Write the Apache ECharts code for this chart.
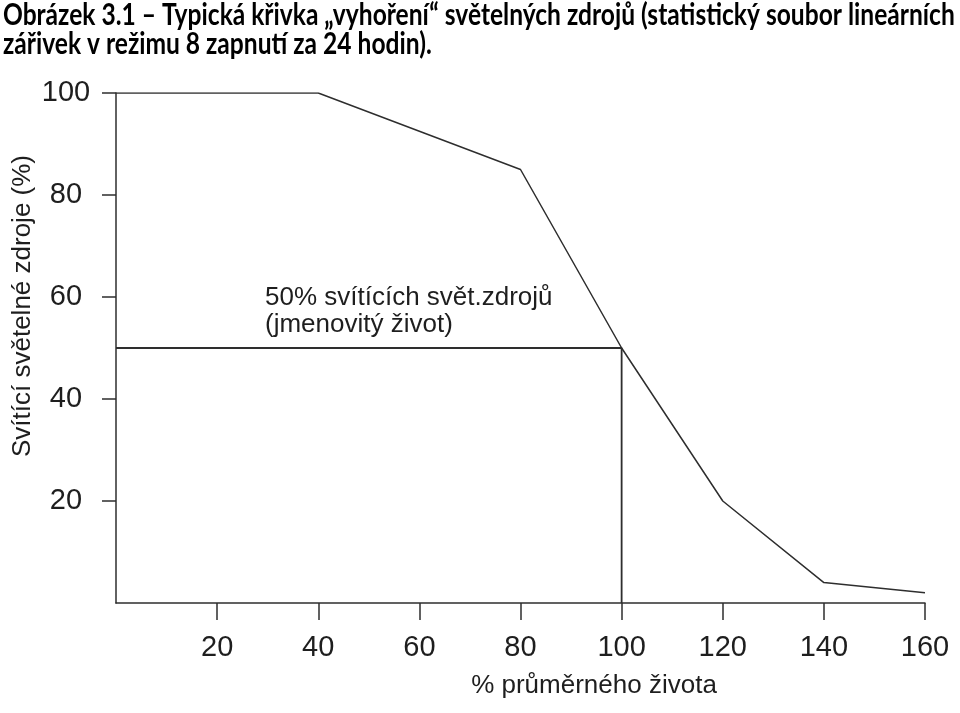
<!DOCTYPE html>
<html><head><meta charset="utf-8">
<script src="https://cdn.jsdelivr.net/npm/echarts@6/dist/echarts.min.js"></script>
<style>html,body{margin:0;padding:0;background:#fff}#c{width:960px;height:713px}</style>
</head><body><div id="c"></div>
<script>
const titleLines = ['Obrázek 3.1 – Typická křivka „vyhoření“ světelných zdrojů (statistický soubor lineárních', 'zářivek v režimu 8 zapnutí za 24 hodin).'];
const xAxisName = '% průměrného života';
const yAxisName = 'Svítící světelné zdroje (%)';
const annotationLines = ['50% svítících svět.zdrojů', '(jmenovitý život)'];
const lifePct = [0, 40, 80, 100, 120, 140, 160];
const burningPct = [100, 100, 85, 50, 20, 4, 2];
const ratedLifeX = [0, 100, 100];
const ratedLifeY = [50, 50, 0];
const xTicks = [20, 40, 60, 80, 100, 120, 140, 160];
const yTicks = [20, 40, 60, 80, 100];

const mctx = document.createElement('canvas').getContext('2d');
mctx.font = 'bold 100px Lato';
const titleSize = Math.min(30, 100 * 952 / mctx.measureText(titleLines[0]).width);

const chart = echarts.init(document.getElementById('c'), null, {renderer: 'canvas'});
const txt = '#1e1e1e', ln = '#2e2e2e';
chart.setOption({
  animation: false,
  backgroundColor: '#ffffff',
  grid: {left: 116, right: 35, top: 93, bottom: 110, containLabel: false},
  xAxis: {
    type: 'value', min: 0, max: 160, interval: 20,
    splitLine: {show: false},
    axisLine: {show: true, onZero: false, lineStyle: {color: ln, width: 1.5}},
    axisTick: {show: true, length: 17, inside: false, customValues: xTicks, lineStyle: {color: ln, width: 1.5}},
    axisLabel: {margin: 30, customValues: xTicks, color: txt, fontFamily: 'Liberation Sans, Arial, sans-serif', fontSize: 29}
  },
  yAxis: {
    type: 'value', min: 0, max: 100, interval: 20,
    splitLine: {show: false},
    axisLine: {show: true, onZero: false, lineStyle: {color: ln, width: 1.5}},
    axisTick: {show: true, length: 14, inside: false, customValues: yTicks, lineStyle: {color: ln, width: 1.5}},
    axisLabel: {margin: 50, align: 'center', customValues: yTicks, color: txt, fontFamily: 'Liberation Sans, Arial, sans-serif', fontSize: 29}
  },
  series: [
    {
      type: 'line', name: 'křivka vyhoření', symbol: 'none', z: 3,
      lineStyle: {color: ln, width: 1.5},
      data: lifePct.map((x, i) => [x, burningPct[i]])
    },
    {
      type: 'line', name: 'jmenovitý život', symbol: 'none', z: 2,
      lineStyle: {color: ln, width: 1.8},
      data: ratedLifeX.map((x, i) => [x, ratedLifeY[i]])
    }
  ],
  graphic: [
    {type: 'text', x: 3, y: 15, scaleY: 1.25, style: {text: titleLines[0], font: 'bold ' + titleSize.toFixed(2) + 'px Lato', fill: '#000', align: 'left', verticalAlign: 'middle'}},
    {type: 'text', x: 3, y: 44, scaleY: 1.25, style: {text: titleLines[1], font: 'bold ' + titleSize.toFixed(2) + 'px Lato', fill: '#000', align: 'left', verticalAlign: 'middle'}},
    {type: 'text', x: 265, y: 298, style: {text: annotationLines[0], font: '26px "Liberation Sans", Arial, sans-serif', fill: txt, align: 'left', verticalAlign: 'middle'}},
    {type: 'text', x: 265, y: 325, style: {text: annotationLines[1], font: '26px "Liberation Sans", Arial, sans-serif', fill: txt, align: 'left', verticalAlign: 'middle'}},
    {type: 'text', x: 594, y: 686, style: {text: xAxisName, font: '26px "Liberation Sans", Arial, sans-serif', fill: txt, align: 'center', verticalAlign: 'middle'}},
    {type: 'text', x: 23, y: 306, rotation: Math.PI / 2, style: {text: yAxisName, font: '26px "Liberation Sans", Arial, sans-serif', fill: txt, align: 'center', verticalAlign: 'middle'}}
  ]
});
</script>
</body></html>
